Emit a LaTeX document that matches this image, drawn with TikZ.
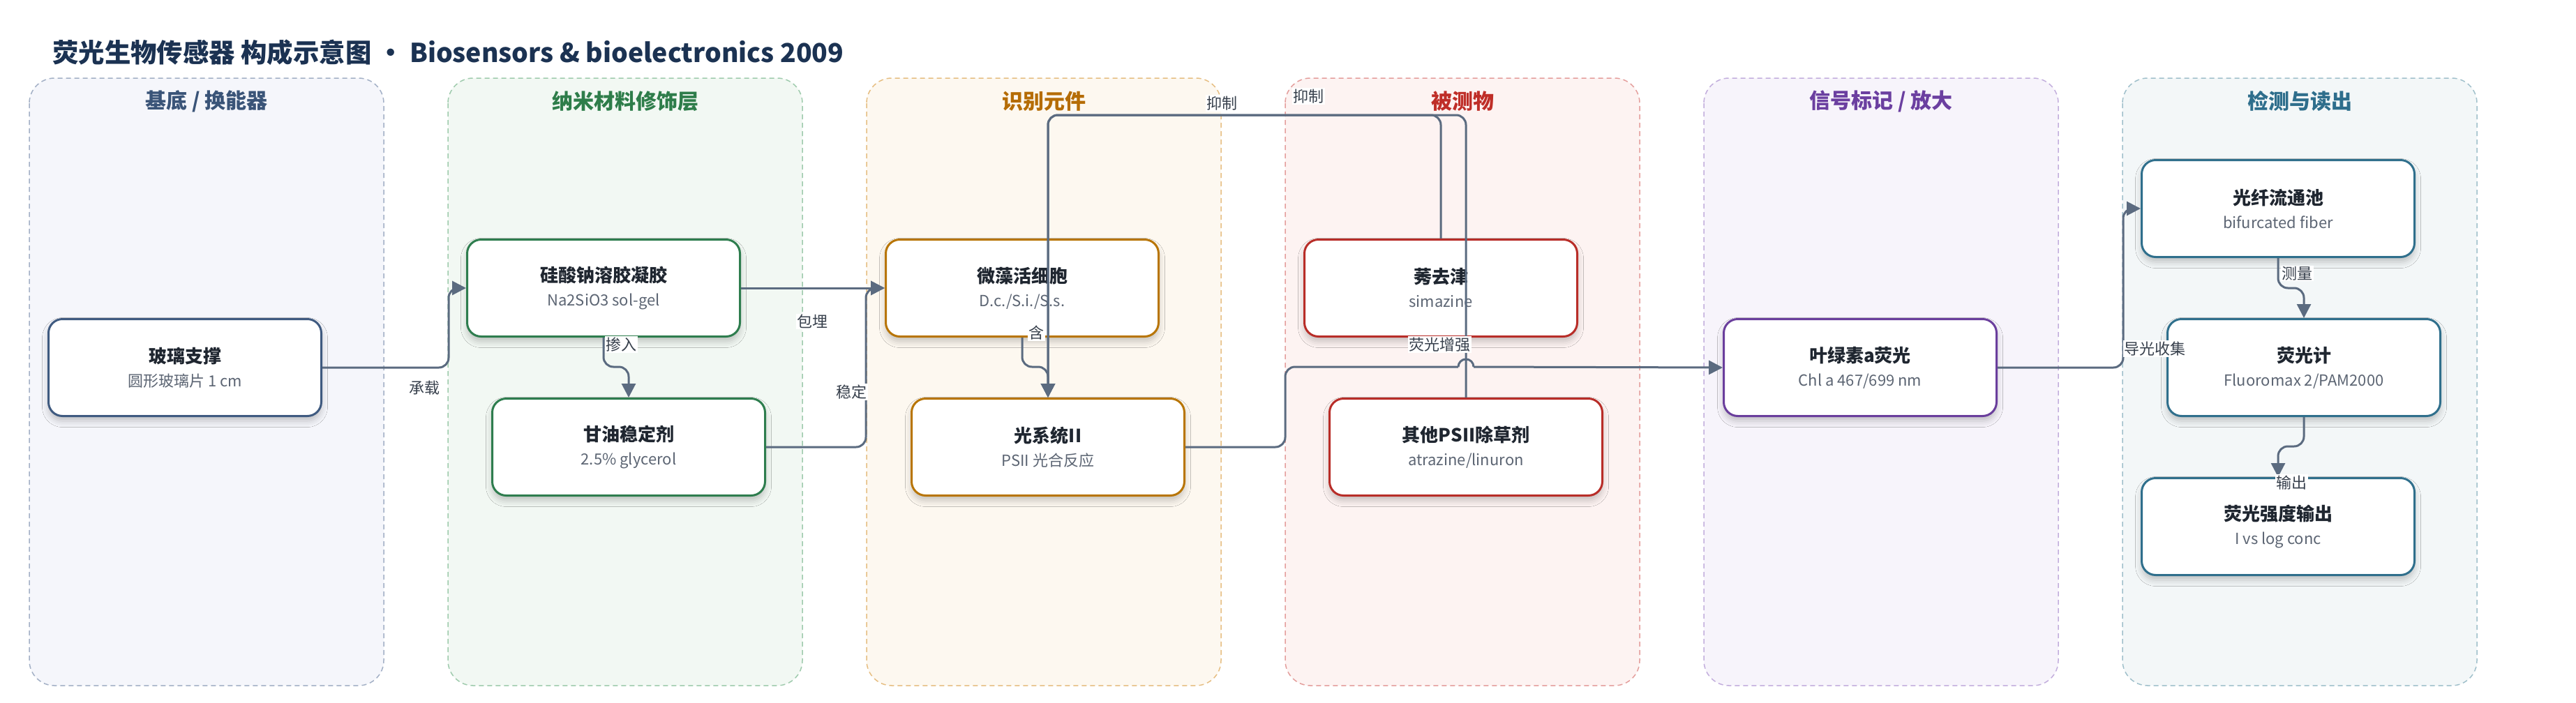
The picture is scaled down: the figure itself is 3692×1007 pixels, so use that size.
\documentclass[tikz,border=0pt]{standalone}
\usepackage{fontspec}
\setmainfont{Noto Sans CJK SC}
\usetikzlibrary{arrows.meta,shadows.blur}

\definecolor{lineC}{HTML}{5B6B80}
\definecolor{titleC}{HTML}{1B3252}
\definecolor{nodeTxt}{HTML}{1F2630}
\definecolor{subC}{HTML}{5C6573}
\definecolor{lblC}{HTML}{37404C}
% lanes: border / fill / header / node border
\definecolor{LaB}{HTML}{A3B0C6}\definecolor{LaF}{HTML}{F5F6FB}\definecolor{LaH}{HTML}{3A5478}\definecolor{LaN}{HTML}{3F5A80}
\definecolor{LbB}{HTML}{9FCBAD}\definecolor{LbF}{HTML}{F2F8F3}\definecolor{LbH}{HTML}{2E7D4A}\definecolor{LbN}{HTML}{2E7D4E}
\definecolor{LcB}{HTML}{E6BE82}\definecolor{LcF}{HTML}{FDF8F0}\definecolor{LcH}{HTML}{B56C05}\definecolor{LcN}{HTML}{B87505}
\definecolor{LdB}{HTML}{E49E9C}\definecolor{LdF}{HTML}{FDF3F2}\definecolor{LdH}{HTML}{BF2E28}\definecolor{LdN}{HTML}{B82D28}
\definecolor{LeB}{HTML}{C3AEDD}\definecolor{LeF}{HTML}{F7F4FB}\definecolor{LeH}{HTML}{6B3FA0}\definecolor{LeN}{HTML}{6A3E9C}
\definecolor{LfB}{HTML}{A0C0CB}\definecolor{LfF}{HTML}{F3F7F8}\definecolor{LfH}{HTML}{2E6E8C}\definecolor{LfN}{HTML}{2F6F8C}

\newcommand{\boxtxt}[2]{{\fontsize{26}{33}\selectfont\bfseries #1}\\{\color{subC}#2}}

\tikzset{
  lanebox/.style={draw=#1, dash pattern=on 7pt off 5pt, line width=1.5pt, rounded corners=36pt},
  hdr/.style={font=\fontsize{30}{36}\selectfont\bfseries, text=#1},
  nbox/.style={draw=#1, line width=3pt, fill=white, rounded corners=20pt,
    minimum width=391pt, minimum height=139pt, align=center, inner sep=0pt,
    font=\fontsize{22}{34}\selectfont, text=nodeTxt,
    blur shadow={shadow xshift=0pt, shadow yshift=-7pt, shadow blur radius=9pt, shadow opacity=22}},
  wire/.style={draw=lineC, line width=3pt, rounded corners=14pt},
  conn/.style={wire, -{Triangle[length=20pt,width=20pt]}},
  lbl/.style={fill=white, inner sep=1.5pt, font=\fontsize{22}{26}\selectfont, text=lblC},
}

\begin{document}
\begin{tikzpicture}[x=1pt, y=-1pt]
\useasboundingbox (0,0) rectangle (3692,1007);
\fill[white] (0,0) rectangle (3692,1007);

% title
\node[anchor=west, font=\fontsize{37.4}{44}\selectfont\bfseries, text=titleC, inner sep=0pt] (title) at (75,75)
  {荧光生物传感器 构成示意图 · Biosensors \& bioelectronics 2009};

% lanes
\draw[lanebox=LaB, fill=LaF] (42,112) rectangle (550,983);
\draw[lanebox=LbB, fill=LbF] (642,112) rectangle (1150,983);
\draw[lanebox=LcB, fill=LcF] (1242,112) rectangle (1750,983);
\draw[lanebox=LdB, fill=LdF] (1842,112) rectangle (2350,983);
\draw[lanebox=LeB, fill=LeF] (2442,112) rectangle (2950,983);
\draw[lanebox=LfB, fill=LfF] (3042,112) rectangle (3550,983);

\node[hdr=LaH] (h1) at (296,145) {基底 / 换能器};
\node[hdr=LbH] (h2) at (896,145) {纳米材料修饰层};
\node[hdr=LcH] (h3) at (1496,145) {识别元件};
\node[hdr=LdH] (h4) at (2096,145) {被测物};
\node[hdr=LeH] (h5) at (2696,145) {信号标记 / 放大};
\node[hdr=LfH] (h6) at (3296,145) {检测与读出};

% nodes
\node[nbox=LaN] (glass) at (265,527) {\boxtxt{玻璃支撑}{圆形玻璃片 1 cm}};
\node[nbox=LbN] (sol) at (865,413) {\boxtxt{硅酸钠溶胶凝胶}{Na2SiO3 sol-gel}};
\node[nbox=LbN] (gly) at (901,641) {\boxtxt{甘油稳定剂}{2.5\% glycerol}};
\node[nbox=LcN] (micro) at (1465,413) {\boxtxt{微藻活细胞}{D.c./S.i./S.s.}};
\node[nbox=LcN] (ps2) at (1502,641) {\boxtxt{光系统II}{PSII 光合反应}};
\node[nbox=LdN] (atz) at (2065,413) {\boxtxt{莠去津}{simazine}};
\node[nbox=LdN] (herb) at (2101,641) {\boxtxt{其他PSII除草剂}{atrazine/linuron}};
\node[nbox=LeN] (chl) at (2666,527) {\boxtxt{叶绿素a荧光}{Chl a 467/699 nm}};
\node[nbox=LfN] (fiber) at (3265,299) {\boxtxt{光纤流通池}{bifurcated fiber}};
\node[nbox=LfN] (meter) at (3302,527) {\boxtxt{荧光计}{Fluoromax 2/PAM2000}};
\node[nbox=LfN] (out) at (3265,755) {\boxtxt{荧光强度输出}{I vs log conc}};

% connectors
\draw[conn] (glass.east) -- (643,527) |- (sol.west);
\draw[conn] (sol.east) -- (micro.west);
\draw[conn] (gly.east) -- (1241,641) |- (micro.west);
\draw[conn] (sol.south) -- (865,526) -| (gly.north);
\draw[conn] (micro.south) -- (1465,526) -| (ps2.north);
\draw[conn] (atz.north) -- (2065,165) -| (ps2.north);
\draw[conn] (herb.north) -- (2101,165) -| (ps2.north);
% PSII -> chlorophyll, with a line hop over the herbicide wire
\coordinate (hopL) at (2090,526);
\coordinate (hopR) at (2112,526);
\draw[wire] (ps2.east) -- (1842,641) -- (1842,526) -- (hopL);
\draw[draw=lineC, line width=3pt] (hopL) arc[start angle=180, end angle=0, radius=11pt];
\draw[conn] (hopR) -- (chl.west);
\draw[conn] (chl.east) -- (3043,527) |- (fiber.west);
\draw[conn] (fiber.south) -- (3265,413) -| (meter.north);
\draw[conn] (meter.south) -- (3302,640) -| (out.north);

% labels
\node[lbl] (l1) at (608,556) {承载};
\node[lbl] (l2) at (1164,461) {包埋};
\node[lbl] (l3) at (1220,562) {稳定};
\node[lbl] (l4) at (890,494) {掺入};
\node[lbl] (l5) at (1485,477) {含};
\node[lbl] (l6) at (1751,148) {抑制};
\node[lbl] (l7) at (1875,138) {抑制};
\node[lbl] (l8) at (2063,494) {荧光增强};
\node[lbl] (l9) at (3088,500) {导光收集};
\node[lbl] (l10) at (3292,392) {测量};
\node[lbl] (l11) at (3284,692) {输出};
\end{tikzpicture}
\end{document}
